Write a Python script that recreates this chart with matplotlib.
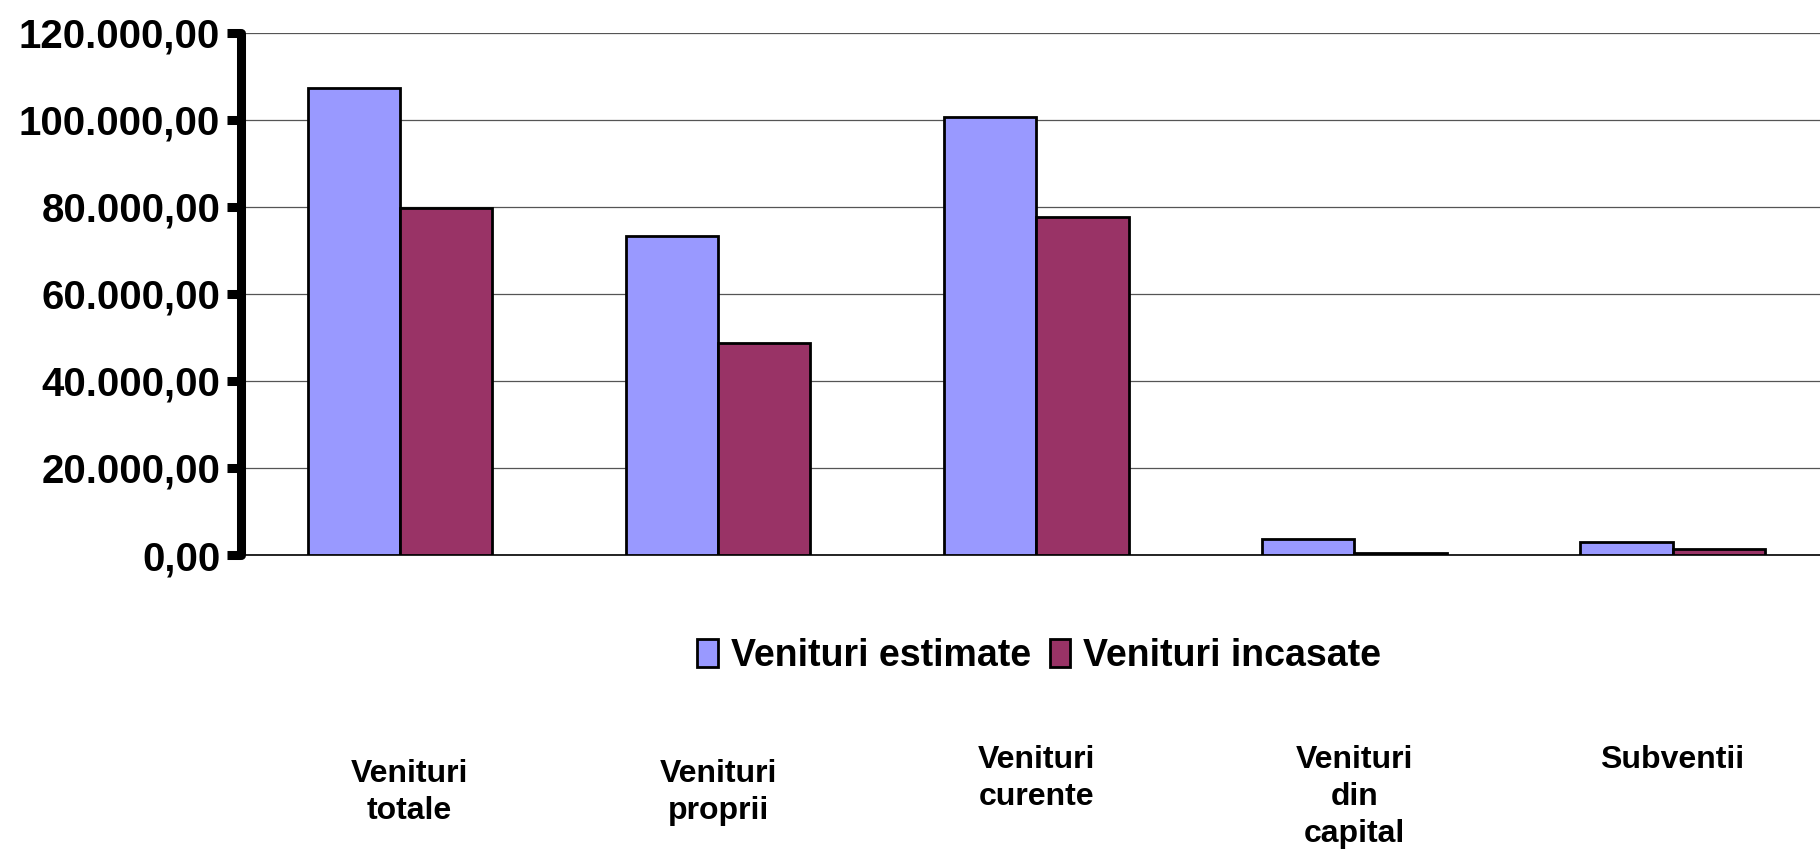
import numpy as np
import matplotlib
matplotlib.use('Agg')
import matplotlib.pyplot as plt
from matplotlib.ticker import FuncFormatter, MultipleLocator
from matplotlib.patches import Patch
import matplotlib.transforms as mtransforms

# date
categorii = ['Venituri\ntotale', 'Venituri\nproprii', 'Venituri\ncurente',
             'Venituri\ndin\ncapital', 'Subventii']
estimate = [107200, 73300, 100500, 3700, 2900]
incasate = [79700, 48800, 77600, 500, 1300]
serii = ['Venituri estimate', 'Venituri incasate']

plt.rcParams['font.family'] = ['Liberation Sans', 'DejaVu Sans']
plt.rcParams['font.weight'] = 'bold'

fig = plt.figure(figsize=(18.2, 8.51), dpi=100)
ax = fig.add_axes([0.1324, 0.3478, 0.874, 0.614])

x = np.arange(len(categorii))
w = 0.29
ax.bar(x - w / 2, estimate, w, color='#9999FF', edgecolor='black', linewidth=2, zorder=3)
ax.bar(x + w / 2, incasate, w, color='#993366', edgecolor='black', linewidth=2, zorder=3)

ax.set_xlim(-0.5, len(categorii) - 0.5)
ax.set_ylim(0, 120000)
ax.yaxis.set_major_locator(MultipleLocator(20000))


def fmt(v, pos):
    s = '{:,.2f}'.format(v)
    return s.replace(',', 'X').replace('.', ',').replace('X', '.')


ax.yaxis.set_major_formatter(FuncFormatter(fmt))
ax.grid(axis='y', color='#555555', linewidth=0.9, zorder=0)

for s in ['top', 'right']:
    ax.spines[s].set_visible(False)
ax.spines['left'].set_linewidth(6.5)
ax.spines['left'].set_capstyle('round')
ax.spines['bottom'].set_linewidth(1.2)
ax.tick_params(axis='y', length=10, width=6.5, labelsize=29, pad=5)
for t in ax.yaxis.get_major_ticks():
    t.tick1line.set_solid_capstyle('round')
ax.set_xticks([])

# etichete categorii sub legenda
trans = mtransforms.blended_transform_factory(ax.transData, fig.transFigure)
dx = [0.03, 0.0, 0.0, 0.0, 0.0]
ytop = [0.108, 0.108, 0.124, 0.124, 0.124]
for i, lab in enumerate(categorii):
    ax.text(x[i] + dx[i], ytop[i], lab, transform=trans, ha='center', va='top',
            fontsize=23, fontweight='bold', linespacing=1.3, multialignment='center')

handles = [Patch(facecolor='#9999FF', edgecolor='black', linewidth=2),
           Patch(facecolor='#993366', edgecolor='black', linewidth=2)]
fig.legend(handles, serii, loc='center', bbox_to_anchor=(0.571, 0.229), ncol=2,
           frameon=False, handlelength=0.55, handleheight=0.8,
           handletextpad=0.35, columnspacing=0.5, prop={'weight': 'bold', 'size': 27})

fig.savefig('out.png', dpi=100)
